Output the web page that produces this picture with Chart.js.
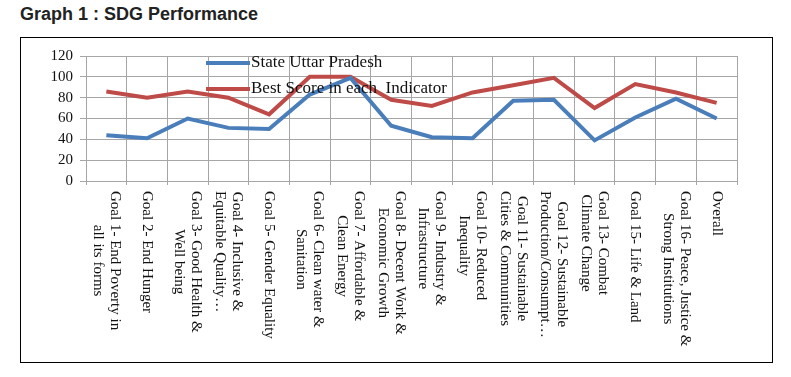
<!DOCTYPE html>
<html>
<head>
<meta charset="utf-8">
<script src="https://cdn.jsdelivr.net/npm/chart.js@4/dist/chart.umd.min.js"></script>
<style>
  html, body { margin: 0; padding: 0; background: #fff; }
  body { width: 791px; height: 377px; position: relative; overflow: hidden; }
  #title {
    position: absolute; left: 20px; top: 4px;
    font: bold 18px "Liberation Sans", Arial, sans-serif; color: #222;
  }
  #frame {
    position: absolute; left: 20px; top: 37px; width: 751px; height: 324px;
    border: 1.5px solid #000;
  }
  #sdgChart { position: absolute; left: 0; top: 0; }
</style>
</head>
<body>
<div id="title">Graph 1 : SDG Performance</div>
<div id="frame"></div>
<canvas id="sdgChart" width="791" height="377"></canvas>
<script>
// goals (each label split into its wrapped lines)
const goals = [
  ["Goal 1- End Poverty in", "all its forms"],
  ["Goal 2- End Hunger"],
  ["Goal 3- Good Health &", "Well being"],
  ["Goal 4- Inclusive &", "Equitable Quality…"],
  ["Goal 5- Gender Equality"],
  ["Goal 6- Clean water &", "Sanitation"],
  ["Goal 7- Affordable &", "Clean Energy"],
  ["Goal 8- Decent Work &", "Economic Growth"],
  ["Goal 9- Industry &", "Infrastructure"],
  ["Goal 10- Reduced", "Inequality"],
  ["Goal 11- Sustainable", "Cities & Communities"],
  ["Goal 12- Sustainable", "Production/Consumpt…"],
  ["Goal 13- Combat", "Climate Change"],
  ["Goal 15- Life & Land"],
  ["Goal 16- Peace, Justice &", "Strong Institutions"],
  ["Overall"],
];
const stateUP = [44, 41, 60, 51, 50, 83, 99, 53, 42, 41, 77, 78, 39, 61, 79, 60];
const bestScore = [86, 80, 86, 80, 64, 100, 100, 78, 72, 85, 92, 99, 70, 93, 85, 75];

const serif = '"Liberation Serif", "Times New Roman", serif';

// x labels read top-to-bottom, so draw them rotated clockwise
const verticalLabels = {
  id: "verticalLabels",
  afterDraw(chart) {
    const ctx = chart.ctx;
    const xs = chart.scales.x;
    ctx.save();
    ctx.font = "15px " + serif;
    ctx.fillStyle = "#111";
    ctx.textAlign = "center";
    ctx.textBaseline = "middle";
    chart.data.labels.forEach((lines, i) => {
      const x = xs.getPixelForValue(i);
      const w = Math.max(...lines.map(l => ctx.measureText(l).width));
      const lh = 17;
      ctx.save();
      ctx.translate(x, 191);
      ctx.rotate(Math.PI / 2);
      lines.forEach((l, j) => {
        ctx.fillText(l, w / 2, (j - (lines.length - 1) / 2) * lh);
      });
      ctx.restore();
    });
    ctx.restore();
  },
};

// legend sits inside the plot area
const innerLegend = {
  id: "innerLegend",
  afterDraw(chart) {
    const ctx = chart.ctx;
    ctx.save();
    ctx.font = "17px " + serif;
    ctx.textBaseline = "middle";
    chart.data.datasets.forEach((ds, i) => {
      const y = 63 + i * 26;
      ctx.strokeStyle = ds.borderColor;
      ctx.lineWidth = 4;
      ctx.beginPath();
      ctx.moveTo(206, y);
      ctx.lineTo(250, y);
      ctx.stroke();
      ctx.fillStyle = "#111";
      ctx.fillText(ds.label, 251, y);
    });
    ctx.restore();
  },
};

const gridColor = "#a6a6a6";

new Chart(document.getElementById("sdgChart"), {
  type: "line",
  data: {
    labels: goals,
    datasets: [
      {
        label: "State Uttar Pradesh",
        data: stateUP,
        borderColor: "#4a7ebb",
        borderWidth: 4,
        pointRadius: 0,
        tension: 0,
      },
      {
        label: "Best Score in each  Indicator",
        data: bestScore,
        borderColor: "#be4b48",
        borderWidth: 4,
        pointRadius: 0,
        tension: 0,
      },
    ],
  },
  options: {
    responsive: false,
    animation: false,
    layout: { padding: { left: 46, top: 56, right: 54, bottom: 0 } },
    scales: {
      x: {
        offset: true,
        grid: { color: gridColor, tickLength: 4, offset: true },
        border: { color: gridColor },
        ticks: { display: false },
        afterFit: (s) => { s.height = 196; },
      },
      y: {
        min: 0,
        max: 120,
        grid: { color: gridColor, tickLength: 6 },
        border: { color: gridColor },
        ticks: {
          stepSize: 20,
          autoSkip: false,
          padding: 7,
          color: "#111",
          font: { family: serif, size: 15 },
        },
        afterFit: (s) => { s.width = 40; },
      },
    },
    plugins: {
      legend: { display: false },
      tooltip: { enabled: false },
    },
  },
  plugins: [verticalLabels, innerLegend],
});
</script>
</body>
</html>
